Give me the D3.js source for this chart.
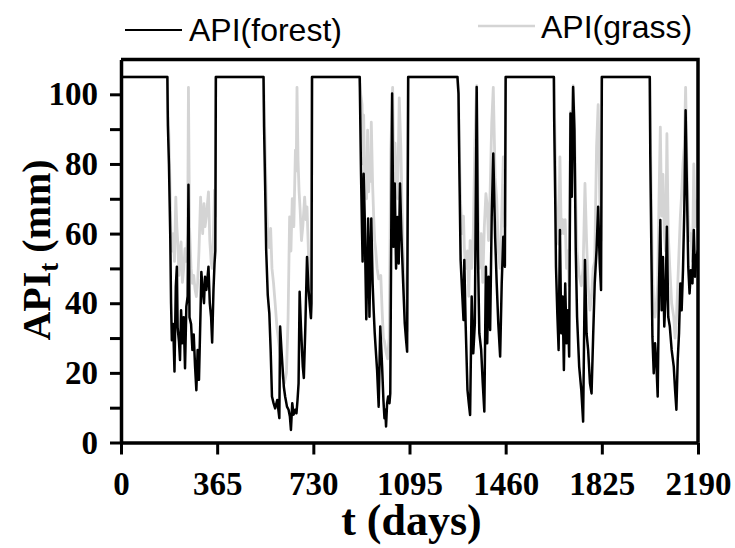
<!DOCTYPE html>
<html>
<head>
<meta charset="utf-8">
<script src="https://cdn.jsdelivr.net/npm/d3@7"></script>
<style>
  html, body { margin: 0; padding: 0; background: #fff; }
  svg { display: block; }
</style>
</head>
<body>
<svg id="chart" width="735" height="548"></svg>
<script>
// ---------------- data ----------------
const xTickValues = [0, 365, 730, 1095, 1460, 1825, 2190];
const yTickValues = [0, 10, 20, 30, 40, 50, 60, 70, 80, 90, 100];
const yLabelValues = [0, 20, 40, 60, 80, 100];
const seriesNames = ["API(forest)", "API(grass)"];

const forestDay = [
  0, 176, 178, 182, 187, 190, 193, 198, 203, 208, 212, 215, 220, 224, 228, 233, 238, 243, 248, 253, 256, 260, 266, 271, 276, 281, 286, 291, 296, 302, 305, 310, 315, 319, 324, 332, 337, 342, 346, 351, 355, 358,
  360, 541, 543, 547, 551, 557, 563, 568, 573, 579, 585, 593, 601, 604, 609, 613, 618, 623, 630, 636, 641, 645, 650, 655, 661, 666, 670, 674, 678, 683, 687, 690, 694, 699, 706, 712, 717, 721, 723,
  725, 906, 911, 915, 917, 921, 925, 927, 931, 938, 943, 946, 950, 955, 959, 963, 967, 972, 978, 984, 991, 996, 1000, 1003, 1006, 1010, 1014, 1019, 1022, 1029, 1034, 1039, 1044, 1049, 1054, 1059, 1064, 1071, 1077, 1082, 1086,
  1090, 1277, 1281, 1284, 1289, 1295, 1300, 1303, 1308, 1315, 1320, 1325, 1331, 1337, 1343, 1350, 1355, 1360, 1367, 1373, 1379, 1385, 1390, 1395, 1401, 1407, 1413, 1420, 1426, 1432, 1439, 1445, 1451, 1457,
  1460, 1643, 1644, 1648, 1651, 1656, 1661, 1666, 1671, 1676, 1681, 1686, 1691, 1696, 1701, 1706, 1711, 1716, 1721, 1726, 1731, 1739, 1747, 1754, 1761, 1767, 1773, 1780, 1786, 1792, 1798, 1805, 1811, 1817, 1822,
  1825, 2007, 2009, 2013, 2017, 2022, 2027, 2032, 2037, 2042, 2047, 2052, 2057, 2062, 2067, 2072, 2077, 2083, 2090, 2098, 2103, 2108, 2113, 2118, 2123, 2128, 2133, 2138, 2143, 2148, 2153, 2158, 2163, 2169, 2174, 2179, 2184, 2190
];
const forestAPI = [
  105, 105, 91, 80, 59, 40, 29.4, 34, 20.4, 44.7, 50.5, 33, 29, 23.7, 38, 28.5, 36, 21.3, 39, 42, 74, 36, 34, 26.6, 31, 22, 15, 26.6, 18, 38, 49, 43.8, 40, 47.6, 43.8, 50.5, 40, 36, 28.7, 43.8, 51.4, 55,
  105, 105, 90.6, 73.9, 55.3, 42.4, 37, 26.6, 13.2, 11.3, 9.8, 12.2, 7, 33.3, 26.6, 21.8, 16, 13.2, 10.3, 9.4, 7.5, 3.6, 11.3, 8, 9.4, 8.4, 12.2, 17, 43.3, 33.3, 26.6, 21.8, 18.5, 31.4, 53.3, 43.8, 39, 35.7, 40,
  105, 105, 77.2, 60, 52, 77.2, 64.8, 53.3, 35.4, 64.3, 36.1, 50.5, 64.3, 45.7, 38, 31.4, 26.6, 20.8, 10.3, 33.3, 21.8, 12.2, 7, 9.4, 4.6, 11.3, 13.2, 11.3, 14.1, 100.2, 56.2, 74.4, 50, 64.8, 51.4, 74.4, 60, 45.7, 34.2, 29.4, 26.1,
  105, 105, 100.2, 80.1, 52.4, 42.8, 35.2, 52.4, 34.2, 15.1, 11.3, 7.9, 41.9, 25.6, 34.2, 102.1, 53.3, 31.4, 26.6, 17, 8.9, 50.5, 28.5, 47.6, 32.3, 64.8, 83, 59.1, 45.7, 34.2, 24.7, 45.7, 59.1, 50.5,
  105, 105, 93.5, 70.6, 50.5, 37.1, 26.6, 61, 31.4, 41.9, 20.8, 45.7, 28.5, 38, 24.7, 94.5, 70.6, 102.1, 89.7, 55.3, 36.1, 21.8, 15.1, 6, 52.4, 31.4, 26.6, 17, 14.1, 30.4, 45.7, 55.3, 67.7, 51.4, 43.8,
  105, 105, 82, 55.3, 30.4, 19.9, 28.5, 22.8, 13.2, 44.7, 63.9, 38, 53.3, 33.3, 41.9, 62, 36.1, 33.3, 26.6, 21.8, 15.1, 9.4, 23.7, 31.4, 45.7, 38, 49.5, 66.7, 95.4, 72.5, 50.5, 42.8, 49.5, 45.7, 61, 47.6, 53.3, 55.3
];

const grassDay = [
  0, 176, 178, 182, 187, 190, 193, 198, 203, 208, 212, 215, 220, 224, 228, 233, 238, 243, 248, 253, 256, 260, 266, 271, 276, 281, 286, 291, 296, 302, 305, 310, 315, 319, 324, 332, 337, 342, 346, 351, 355, 358,
  360, 541, 544, 548, 552, 557, 563, 568, 573, 579, 585, 592, 600, 606, 613, 620, 628, 634, 640, 645, 650, 656, 662, 665, 668, 672, 676, 680, 685, 690, 697, 702, 706, 712, 717, 721, 723,
  725, 906, 910, 915, 918, 921, 925, 928, 932, 936, 940, 943, 947, 950, 955, 959, 963, 967, 972, 978, 986, 991, 996, 1000, 1006, 1012, 1018, 1024, 1031, 1036, 1040, 1046, 1050, 1056, 1062, 1066, 1071, 1076, 1082, 1086,
  1090, 1277, 1281, 1284, 1289, 1295, 1300, 1303, 1308, 1315, 1320, 1325, 1331, 1337, 1343, 1347, 1350, 1355, 1360, 1367, 1373, 1379, 1385, 1390, 1395, 1401, 1407, 1413, 1420, 1426, 1432, 1439, 1445, 1451, 1457,
  1460, 1643, 1648, 1651, 1656, 1661, 1666, 1671, 1676, 1681, 1686, 1691, 1696, 1701, 1706, 1711, 1716, 1721, 1726, 1731, 1739, 1747, 1754, 1761, 1767, 1773, 1780, 1786, 1792, 1798, 1805, 1811, 1817, 1822,
  1825, 2007, 2009, 2013, 2017, 2022, 2027, 2032, 2037, 2042, 2047, 2052, 2057, 2062, 2067, 2072, 2077, 2083, 2090, 2098, 2103, 2108, 2113, 2118, 2123, 2128, 2133, 2138, 2143, 2148, 2153, 2158, 2163, 2169, 2174, 2179, 2184, 2190
];
const grassAPI = [
  105, 105, 95, 88, 70, 58, 55, 60, 52, 70.5, 62, 58, 48, 55, 57.6, 46, 50, 55.7, 52, 60, 102, 62, 50, 45.7, 48, 44, 41.9, 46, 55, 70.5, 66, 60, 68.6, 62, 65, 72, 58, 52, 50, 60, 72.5, 65,
  105, 105, 95, 82, 68, 60, 56, 61.5, 50, 45.7, 40, 33, 28, 24, 19, 17, 20, 35, 64.8, 55, 70, 62, 84, 78, 102, 81, 72, 66.7, 58, 62, 70.5, 64, 67.7, 53.3, 48, 45.7, 44,
  105, 105, 100, 97, 80, 94, 75, 81, 70, 89.7, 72, 81, 75, 92, 74, 65, 58, 55, 50, 47, 48, 38, 30, 29, 26, 24, 30, 84, 102, 75, 86, 72, 70, 99, 85, 70, 55, 46, 40, 32,
  105, 105, 100, 85, 68.6, 60, 65, 56, 50, 55, 42, 58, 50, 60, 85, 96, 102.5, 70, 50, 60, 46, 62, 71.5, 68, 58, 72, 91.6, 102, 76, 70, 55, 50, 65, 82, 62,
  105, 105, 85, 70, 60, 57, 82, 60, 64, 60, 64, 50, 55, 45, 95, 85, 102.5, 92, 70, 55, 48, 45, 50, 74.4, 58, 45, 38, 42, 50, 52, 85, 97, 70, 58,
  105, 105, 90, 70, 50, 38, 36, 40, 45, 70, 90.6, 65, 77, 60, 55, 88.7, 60, 50, 40, 36, 30, 35, 45, 55, 65, 71.5, 80, 85, 102, 80, 65, 58, 60, 52, 80, 62, 68, 70
];

// ---------------- layout ----------------
const svg = d3.select("#chart");
svg.append("rect").attr("width", 735).attr("height", 548).attr("fill", "#fff");

const x = d3.scaleLinear().domain([0, 2190]).range([121, 698]);
const y = d3.scaleLinear().domain([0, 110]).range([442.5, 59.5]);

const serif = "'Liberation Serif', 'Times New Roman', serif";
const sans = "'Liberation Sans', Arial, sans-serif";

svg.append("clipPath").attr("id", "clip")
  .append("rect").attr("x", x(0)).attr("y", y(110)).attr("width", x(2190) - x(0)).attr("height", y(0) - y(110));

const line = d3.line().x(d => x(d[0])).y(d => y(d[1]));
const grassData = grassDay.map((d, i) => [d, grassAPI[i]]);
const forestData = forestDay.map((d, i) => [d, forestAPI[i]]);

const plot = svg.append("g").attr("clip-path", "url(#clip)");
plot.append("path").datum(grassData).attr("d", line)
  .attr("fill", "none").attr("stroke", "#d4d4d4").attr("stroke-width", 2.8).attr("stroke-linejoin", "round");
plot.append("path").datum(forestData).attr("d", line)
  .attr("fill", "none").attr("stroke", "#000").attr("stroke-width", 2.5).attr("stroke-linejoin", "round");

// frame (top and right)
svg.append("path")
  .attr("d", `M${x(0)},${y(110)}H${x(2190)}V${y(0)}`)
  .attr("fill", "none").attr("stroke", "#000").attr("stroke-width", 3.5);

// axes
const yAxis = d3.axisLeft(y).tickValues(yTickValues).tickSize(11).tickSizeOuter(0).tickPadding(12)
  .tickFormat(d => yLabelValues.includes(d) ? String(d) : "");
const gy = svg.append("g").attr("transform", `translate(${x(0)},0)`).call(yAxis);
gy.select(".domain").attr("stroke-width", 3.5);
gy.selectAll(".tick line").attr("stroke-width", 3);
gy.selectAll(".tick text").attr("font-family", serif).attr("font-weight", "bold").attr("font-size", 33).attr("fill", "#000");

const xAxis = d3.axisBottom(x).tickValues(xTickValues).tickSize(12).tickSizeOuter(0).tickPadding(17)
  .tickFormat(d => String(d));
const gx = svg.append("g").attr("transform", `translate(0,${y(0)})`).call(xAxis);
gx.select(".domain").attr("stroke-width", 3.5);
gx.selectAll(".tick line").attr("stroke-width", 3);
gx.selectAll(".tick text").attr("font-family", serif).attr("font-weight", "bold").attr("font-size", 33).attr("fill", "#000");

// axis titles
svg.append("text").attr("x", (x(0) + x(2190)) / 2 + 2).attr("y", 535)
  .attr("text-anchor", "middle").attr("font-family", serif).attr("font-weight", "bold").attr("font-size", 44)
  .text("t (days)");

const yt = svg.append("text").attr("transform", "translate(50,250) rotate(-90)")
  .attr("text-anchor", "middle").attr("font-family", serif).attr("font-weight", "bold").attr("font-size", 40);
yt.append("tspan").text("API");
yt.append("tspan").attr("font-size", 27).attr("dy", 8).text("t");
yt.append("tspan").attr("dy", -8).text(" (mm)");

// legend
const legend = [
  { name: seriesNames[0], color: "#000", x1: 125, x2: 182, ly: 30, tx: 189, ty: 41, w: 2 },
  { name: seriesNames[1], color: "#d4d4d4", x1: 478, x2: 535, ly: 26, tx: 541, ty: 38, w: 2.4 }
];
legend.forEach(l => {
  svg.append("line").attr("x1", l.x1).attr("x2", l.x2).attr("y1", l.ly).attr("y2", l.ly)
    .attr("stroke", l.color).attr("stroke-width", l.w);
  svg.append("text").attr("x", l.tx).attr("y", l.ty).attr("font-family", sans).attr("font-size", 32)
    .attr("fill", "#000").text(l.name);
});
</script>
</body>
</html>
